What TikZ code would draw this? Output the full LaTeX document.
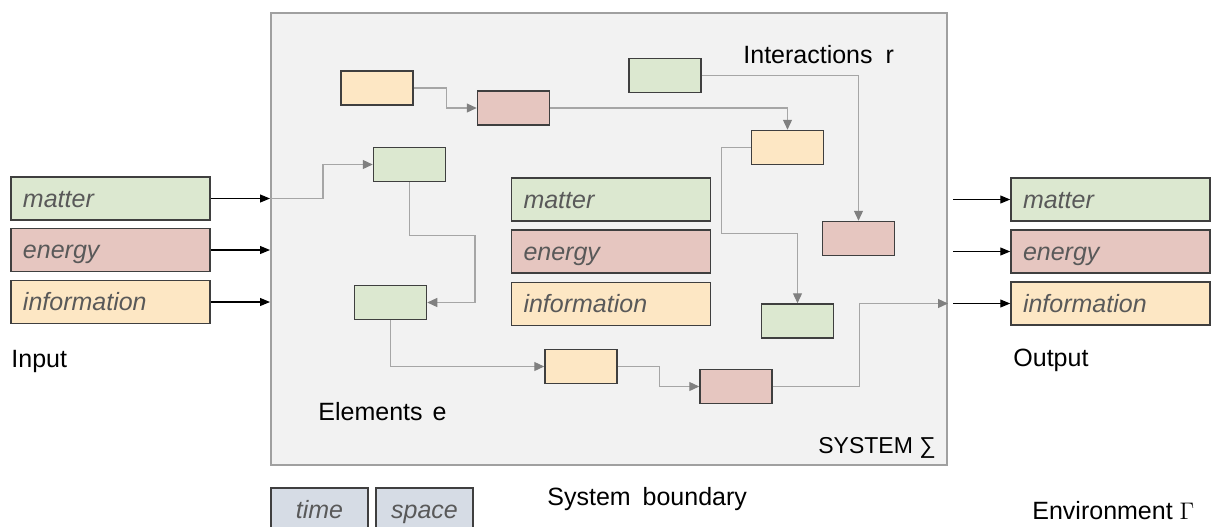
\documentclass[tikz,border=0pt]{standalone}
\usepackage{fontspec}
\setmainfont{Liberation Sans}
\usetikzlibrary{arrows.meta}
\definecolor{gfill}{HTML}{DCE8D0}
\definecolor{rfill}{HTML}{E6C6C0}
\definecolor{ofill}{HTML}{FDE7C4}
\definecolor{bfill}{HTML}{D6DCE5}
\definecolor{sysfill}{HTML}{F2F2F2}
\definecolor{sysline}{HTML}{A0A0A0}
\definecolor{bordc}{HTML}{3F3F3F}
\definecolor{txtgray}{HTML}{595959}
\definecolor{conngray}{HTML}{A6A6A6}
\definecolor{tipgray}{HTML}{808080}
\begin{document}
\begin{tikzpicture}[x=0.5pt,y=-0.5pt,
  elem/.style={draw=bordc, line width=0.75pt, minimum width=36pt, minimum height=17pt, inner sep=0pt},
  flow/.style={draw=bordc, line width=0.75pt, text width=87.5pt, inner xsep=6pt, inner ysep=0pt,
    text height=11pt, text depth=2.5pt,
    minimum height=21.5pt, align=left, font=\fontsize{12.5}{15}\selectfont\itshape, text=txtgray},
  dimbox/.style={draw=bordc, line width=0.75pt, fill=bfill, minimum width=48.5pt, minimum height=21.5pt,
    text height=11pt, text depth=2.5pt,
    inner sep=0pt, font=\fontsize{12.5}{15}\selectfont\itshape, text=txtgray},
  conn/.style={draw=conngray, line width=0.6pt, -{Triangle[length=5pt,width=4.5pt,color=tipgray]}},
  ioarrow/.style={draw=black, line width=0.55pt, -{Triangle[length=5pt,width=4pt]}},
  lab/.style={font=\fontsize{12.5}{15}\selectfont, inner sep=0pt, anchor=base west}]
\useasboundingbox (0,0) rectangle (1211,526);
\clip (0,0) rectangle (1211,526);

% system
\node[draw=sysline, fill=sysfill, line width=1pt, minimum width=338pt, minimum height=226pt, inner sep=0pt] (S) at (609,239) {};

% input flows
\node[flow, fill=gfill] (inM) at (110.5,198.5) {matter};
\node[flow, fill=rfill] (inE) at (110.5,250) {energy};
\node[flow, fill=ofill] (inI) at (110.5,302) {information};

% inner flows
\node[flow, fill=gfill] (mM) at (611,199.5) {matter};
\node[flow, fill=rfill] (mE) at (611,251.5) {energy};
\node[flow, fill=ofill] (mI) at (611,304) {information};

% output flows
\node[flow, fill=gfill] (outM) at (1110.5,199.5) {matter};
\node[flow, fill=rfill] (outE) at (1110.5,251.5) {energy};
\node[flow, fill=ofill] (outI) at (1110.5,303.5) {information};

% elements
\node[elem, fill=ofill] (A) at (377,88) {};
\node[elem, fill=rfill] (B) at (513.5,108) {};
\node[elem, fill=gfill] (C) at (409.5,164.5) {};
\node[elem, fill=gfill] (D) at (665,75.5) {};
\node[elem, fill=ofill] (E) at (787.5,147.5) {};
\node[elem, fill=rfill] (F) at (858.5,238.5) {};
\node[elem, fill=gfill] (G) at (390.5,302.5) {};
\node[elem, fill=ofill] (H) at (581,366.5) {};
\node[elem, fill=rfill] (I) at (736,386.5) {};
\node[elem, fill=gfill] (J) at (797.5,321) {};

% interactions
\draw[conn] (A.east) -- ++(33,0) |- (B.west);
\draw[conn] (B.east) -| (E.north);
\draw[conn] (D.east) -| (F.north);
\draw[conn] (E.west) -- ++(-29,0) -- ++(0,86) -| (J.north);
\draw[conn] (S.west |- inM.east) -- ++(53,0) |- (C.west);
\draw[conn] (C.south) -- ++(0,53) -- ++(65.5,0) |- (G.east);
\draw[conn] (G.south) |- (H.west);
\draw[conn] (H.east) -- ++(42,0) |- (I.west);
\draw[conn] (I.east) -- ++(87,0) |- (S.east |- outI.west);

% input / output arrows
\draw[ioarrow] (inM.east) -- (S.west |- inM.east);
\draw[ioarrow] (inE.east) -- (S.west |- inE.east);
\draw[ioarrow] (inI.east) -- (S.west |- inI.east);
\draw[ioarrow] (S.east |- outM.west) ++(5,0) -- (outM.west);
\draw[ioarrow] (S.east |- outE.west) ++(5,0) -- (outE.west);
\draw[ioarrow] (S.east |- outI.west) ++(5,0) -- (outI.west);

% labels
\node[lab] (linput) at (11,367) {Input};
\node[lab] (loutput) at (1013,366) {Output};
\node[lab] (linter) at (743,63) {Interactions\hspace{3pt} r};
\node[lab] (lelem) at (318,420) {Elements\hspace{1.5pt} e};
\node[lab, font=\fontsize{11.5}{14}\selectfont] (lsys) at (818,453) {SYSTEM ∑};
\node[lab] (lbound) at (547,505) {System\hspace{2.5pt} boundary};
\node[lab] (lenv) at (1032,519) {Environment $\Gamma$};

% time / space
\node[dimbox] (time) at (319.5,509.5) {time};
\node[dimbox] (space) at (424.5,509.5) {space};
\end{tikzpicture}
\end{document}
